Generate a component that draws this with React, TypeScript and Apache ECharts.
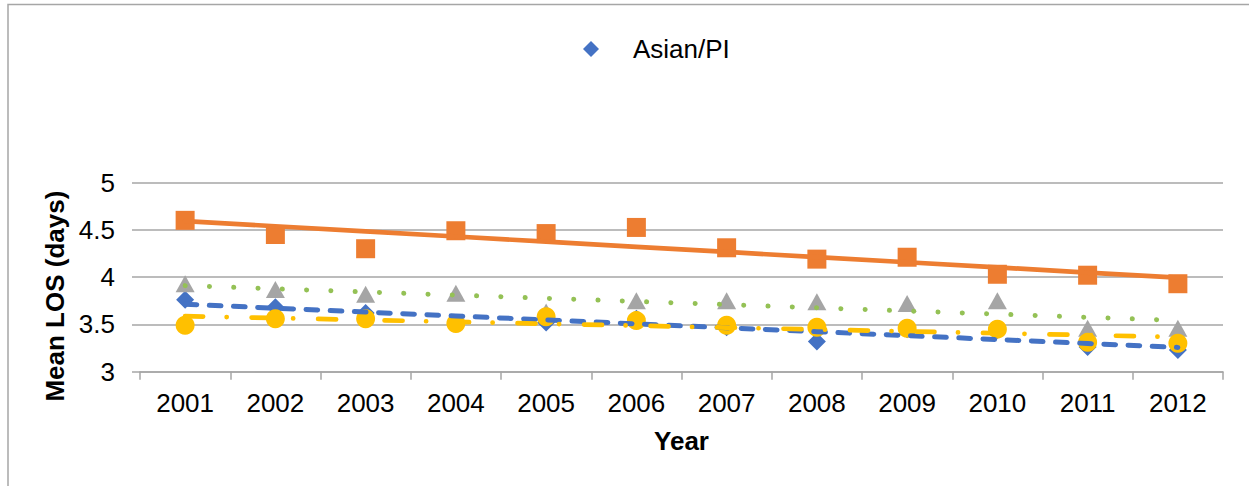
import React, { useEffect, useRef } from "react";
import * as echarts from "echarts";

const years = ["2001", "2002", "2003", "2004", "2005", "2006", "2007", "2008", "2009", "2010", "2011", "2012"];
const asianPI = [3.76, 3.68, 3.62, 3.51, 3.52, 3.56, 3.47, 3.32, 3.45, 3.44, 3.26, 3.23];
const groupOrange = [4.6, 4.45, 4.3, 4.49, 4.46, 4.525, 4.31, 4.19, 4.21, 4.03, 4.02, 3.93];
const groupGray = [3.93, 3.87, 3.82, 3.83, 3.63, 3.75, 3.75, 3.74, 3.72, 3.75, 3.46, 3.46];
const groupYellow = [3.49, 3.56, 3.56, 3.51, 3.58, 3.54, 3.49, 3.47, 3.46, 3.45, 3.31, 3.3];
const yTicks = { min: 3, max: 5, interval: 0.5 };

function linearFit(values: number[]): number[] {
  const n = values.length;
  const xs = values.map((_, i) => i + 1);
  const mx = xs.reduce((a, b) => a + b, 0) / n;
  const my = values.reduce((a, b) => a + b, 0) / n;
  let sxy = 0;
  let sxx = 0;
  for (let i = 0; i < n; i++) {
    sxy += (xs[i] - mx) * (values[i] - my);
    sxx += (xs[i] - mx) * (xs[i] - mx);
  }
  const slope = sxy / sxx;
  const intercept = my - slope * mx;
  return xs.map((x) => +(intercept + slope * x).toFixed(4));
}

const FONT = "'Liberation Sans', Arial, sans-serif";
const GRID_COLOR = "#A6A6A6";

export default function App() {
  const ref = useRef<HTMLDivElement>(null);
  useEffect(() => {
    if (!ref.current) return;
    const chart = echarts.init(ref.current, null, { renderer: "svg" });
    const markerSeries = (name: string, data: number[], symbol: string, size: any, color: string) => ({
      name,
      type: "line",
      data,
      symbol,
      symbolSize: size,
      showSymbol: true,
      lineStyle: { width: 0, opacity: 0 },
      itemStyle: { color },
      z: 2,
    });
    const trendSeries = (name: string, data: number[], color: string, type: any, width: number) => ({
      name,
      type: "line",
      data: linearFit(data),
      symbol: "none",
      lineStyle: { color, width, type, cap: "round" },
      z: 3,
      silent: true,
    });
    chart.setOption({
      animation: false,
      textStyle: { fontFamily: FONT },
      legend: {
        data: [{ name: "Asian/PI", icon: "diamond" }],
        left: 578,
        top: 31,
        itemWidth: 16,
        itemHeight: 16,
        textStyle: { fontSize: 26, color: "#000", fontFamily: FONT, padding: [0, 0, 0, 29] },
      },
      grid: { left: 140, right: 26, top: 182.5, bottom: 114.3 },
      xAxis: {
        type: "category",
        data: years,
        boundaryGap: true,
        axisLine: { lineStyle: { color: GRID_COLOR, width: 1.5 } },
        axisTick: { show: true, length: 8, lineStyle: { color: GRID_COLOR, width: 1.5 } },
        axisLabel: { fontSize: 26, color: "#000", margin: 18, fontFamily: FONT },
        name: "Year",
        nameLocation: "middle",
        nameGap: 56,
        nameTextStyle: { fontSize: 26, fontWeight: "bold", color: "#000", fontFamily: FONT },
      },
      yAxis: {
        type: "value",
        min: yTicks.min,
        max: yTicks.max,
        interval: yTicks.interval,
        axisLine: { show: false },
        axisTick: { show: true, length: 8, lineStyle: { color: GRID_COLOR, width: 1.5 } },
        splitLine: { lineStyle: { color: GRID_COLOR, width: 1.5 } },
        axisLabel: { fontSize: 26, color: "#000", margin: 25, fontFamily: FONT },
        name: "Mean LOS (days)",
        nameLocation: "middle",
        nameGap: 66,
        nameTextStyle: { fontSize: 26, fontWeight: "bold", color: "#000", fontFamily: FONT, padding: [0, 38, 0, 0] },
      },
      graphic: [
        {
          type: "rect",
          silent: true,
          z: -1,
          shape: { x: 8, y: 4.5, width: 1400, height: 700 },
          style: { fill: "none", stroke: GRID_COLOR, lineWidth: 1.5 },
        },
      ],
      series: [
        markerSeries("Asian/PI", asianPI, "diamond", [18, 18], "#4472C4"),
        markerSeries("Group B", groupGray, "triangle", [19, 17], "#A5A5A5"),
        markerSeries("Group C", groupYellow, "circle", 19, "#FFC000"),
        markerSeries("Group A", groupOrange, "rect", 19, "#ED7D31"),
        trendSeries("Asian/PI trend", asianPI, "#4472C4", [11.7, 12.5], 5),
        trendSeries("Group B trend", groupGray, "#94C155", [0.1, 24.2], 5),
        trendSeries("Group C trend", groupYellow, "#FFC000", [18, 23.5, 0.1, 24.9], 4.7),
        trendSeries("Group A trend", groupOrange, "#ED7D31", "solid", 4.7),
      ],
    });
    return () => chart.dispose();
  }, []);
  return (
    <div
      ref={ref}
      style={{ position: "absolute", left: 0, top: 0, width: 1249, height: 486, background: "#fff" }}
    />
  );
}
